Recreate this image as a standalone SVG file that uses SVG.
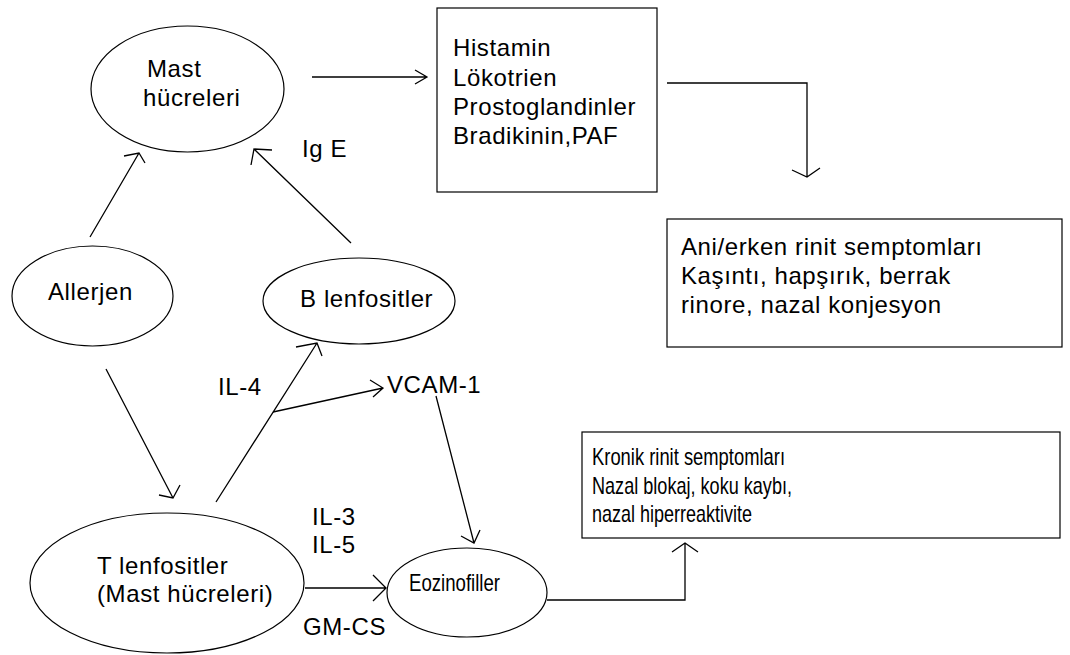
<svg xmlns="http://www.w3.org/2000/svg" width="1070" height="655" viewBox="0 0 1070 655">
<style>
  .node { fill: #fff; stroke: #000; stroke-width: 1.2; }
  .t { font-family: "Liberation Sans", Arial, sans-serif; font-size: 24px; letter-spacing: 0.6px; fill: #000; }
  .n { font-family: "Liberation Sans", Arial, sans-serif; font-size: 24px; fill: #000; }
  .c { fill: none; stroke: #000; stroke-width: 1.3; }
</style>
<rect width="1070" height="655" fill="#fff"/>
<g id="connectors">
  <path class="c" d="M312,77 L427,77 M415,70 L427,77 L415,84"/>
  <path class="c" d="M667,83 L807,83 L807,177 M792,170 L807,177 L820,168"/>
  <path class="c" d="M90,237 L139,153 M124,156 L139,153 L145,163"/>
  <path class="c" d="M351,243 L254,149 M272,150 L254,149 L251,165"/>
  <path class="c" d="M106,369 L173,498 M159,495 L173,498 L180,485"/>
  <path class="c" d="M216,502 L317,343 M296,347 L317,343 L322,356"/>
  <path class="c" d="M273,412 L383,388 M370,380 L383,388 L373,397"/>
  <path class="c" d="M436,396 L474,543 M461,536 L474,543 L480,530"/>
  <path class="c" d="M305,588 L386,588 M373,575 L386,588 L373,601"/>
  <path class="c" d="M547,600 L685,600 L685,543 M672,552 L685,543 L698,552"/>
</g>
<g id="mast">
  <ellipse class="node" cx="187.5" cy="89" rx="96.5" ry="63"/>
  <text class="t" x="147" y="77">Mast</text>
  <text class="t" x="143" y="106">hücreleri</text>
</g>
<g id="mediators">
  <rect class="node" x="437" y="8" width="220" height="184"/>
  <text class="t" x="453" y="56">Histamin</text>
  <text class="t" x="453" y="86">Lökotrien</text>
  <text class="t" x="453" y="115">Prostoglandinler</text>
  <text class="t" x="453" y="144">Bradikinin,PAF</text>
</g>
<g id="early">
  <rect class="node" x="667" y="219" width="395" height="128"/>
  <text class="t" x="681" y="255">Ani/erken rinit semptomları</text>
  <text class="t" x="681" y="284">Kaşıntı, hapşırık, berrak</text>
  <text class="t" x="681" y="313">rinore, nazal konjesyon</text>
</g>
<g id="allerjen">
  <ellipse class="node" cx="92.5" cy="296" rx="80.5" ry="50"/>
  <text class="t" x="48" y="300">Allerjen</text>
</g>
<g id="blenf">
  <ellipse class="node" cx="359" cy="301" rx="96" ry="43"/>
  <text class="t" x="300" y="307">B lenfositler</text>
</g>
<g id="tlenf">
  <ellipse class="node" cx="167" cy="583" rx="137" ry="70"/>
  <text class="t" x="97" y="574">T lenfositler</text>
  <text class="t" x="97" y="602">(Mast hücreleri)</text>
</g>
<g id="eoz">
  <ellipse class="node" cx="467" cy="592.5" rx="80" ry="44.5"/>
  <text class="n" x="409" y="591" textLength="91" lengthAdjust="spacingAndGlyphs">Eozinofiller</text>
</g>
<g id="chronic">
  <rect class="node" x="582" y="432" width="478" height="106"/>
  <text class="n" x="592" y="465" textLength="193" lengthAdjust="spacingAndGlyphs">Kronik rinit semptomları</text>
  <text class="n" x="592" y="494" textLength="200" lengthAdjust="spacingAndGlyphs">Nazal blokaj, koku kaybı,</text>
  <text class="n" x="592" y="522" textLength="160" lengthAdjust="spacingAndGlyphs">nazal hiperreaktivite</text>
</g>
<g id="labels">
  <text class="t" x="302" y="157">Ig E</text>
  <text class="t" x="218" y="395">IL-4</text>
  <text class="t" x="387" y="393">VCAM-1</text>
  <text class="t" x="312" y="525">IL-3</text>
  <text class="t" x="312" y="553">IL-5</text>
  <text class="t" x="303" y="635">GM-CS</text>
</g>
</svg>
